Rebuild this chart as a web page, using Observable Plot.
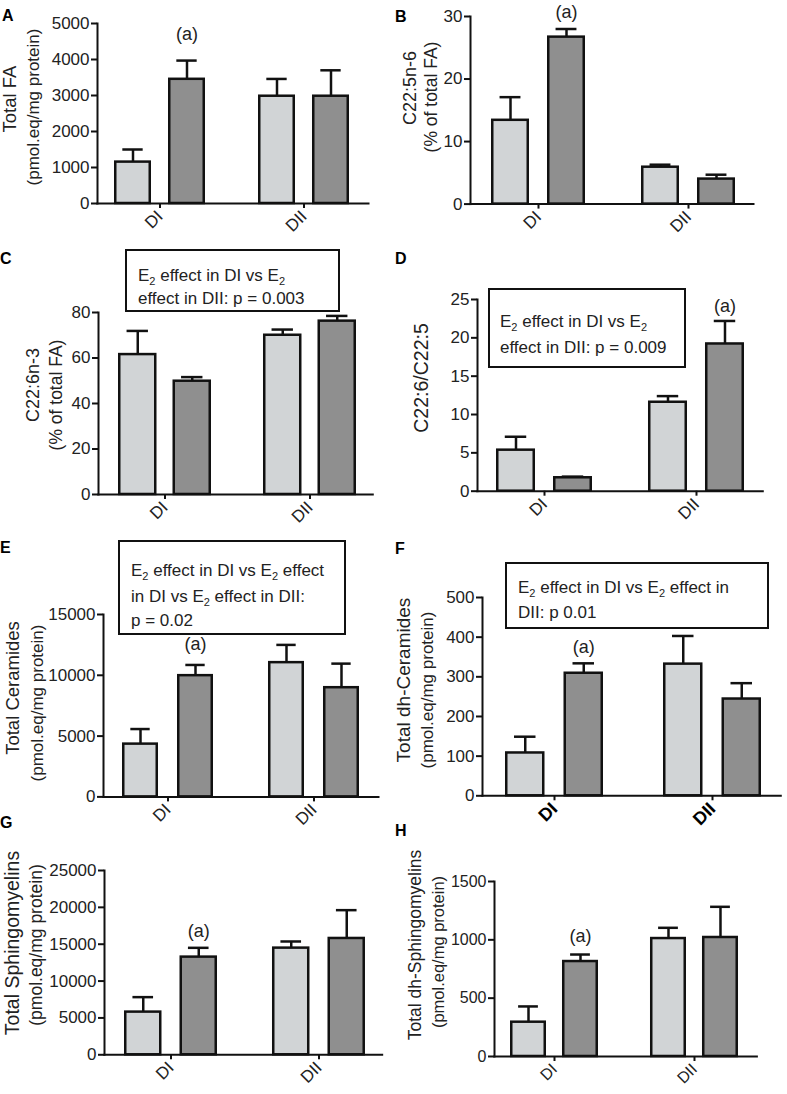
<!DOCTYPE html>
<html>
<head>
<meta charset="utf-8">
<script src="https://cdn.jsdelivr.net/npm/d3@7"></script>
<script src="https://cdn.jsdelivr.net/npm/@observablehq/plot@0.6"></script>
<style>
  html, body { margin: 0; padding: 0; background: #fff; }
  #fig { position: relative; width: 787px; height: 1094px; overflow: hidden; background: #fff;
         font-family: "Liberation Sans", Arial, sans-serif; color: #222; }
  .letter { position: absolute; font-weight: bold; font-size: 16px; line-height: 1; color: #000; }
  .ytitle { position: absolute; white-space: nowrap; transform: translate(-50%, -50%) rotate(-90deg);
            line-height: 1; color: #222; }
  .box { position: absolute; border: 2px solid #111; background: #fff; box-sizing: border-box; }
  .boxline { position: absolute; white-space: nowrap; font-size: 17px; line-height: 1; color: #222; transform: translateY(-50%); }
  .boxline sub { font-size: 11px; vertical-align: -4px; line-height: 0; }
</style>
</head>
<body>
<div id="fig"></div>
<script>
// ---------------- data ----------------
const groups = ["DI", "DII"];
const treatments = ["Control", "E2"];
// order of values: DI-Control, DI-E2, DII-Control, DII-E2
const totalFA_mean = [1150, 3450, 2980, 2980];
const totalFA_sem  = [350, 520, 480, 720];
const totalFA_sig  = [false, true, false, false];

const c225n6_mean = [13.4, 26.7, 5.9, 4.0];
const c225n6_sem  = [3.7, 1.3, 0.4, 0.7];
const c225n6_sig  = [false, true, false, false];

const c226n3_mean = [61.5, 49.8, 70.0, 76.2];
const c226n3_sem  = [10.4, 1.8, 2.5, 2.3];
const c226n3_sig  = [false, false, false, false];

const ratio_mean = [5.35, 1.75, 11.6, 19.2];
const ratio_sem  = [1.75, 0.15, 0.8, 3.0];
const ratio_sig  = [false, false, false, true];

const cer_mean = [4340, 9970, 11040, 8980];
const cer_sem  = [1240, 880, 1460, 1980];
const cer_sig  = [false, true, false, false];

const dhcer_mean = [108, 309, 332, 244];
const dhcer_sem  = [41, 25, 71, 40];
const dhcer_sig  = [false, true, false, false];

const sm_mean = [5790, 13250, 14470, 15780];
const sm_sem  = [2030, 1260, 900, 3840];
const sm_sig  = [false, true, false, false];

const dhsm_mean = [294, 814, 1011, 1020];
const dhsm_sem  = [135, 60, 92, 263];
const dhsm_sig  = [false, true, false, false];

const yMax   = {A: 5000, B: 30, C: 80, D: 25, E: 15000, F: 500, G: 25000, H: 1500};
const yStep  = {A: 1000, B: 10, C: 20, D: 5, E: 5000, F: 100, G: 5000, H: 500};

const yTitles = {
  A: ["Total FA", "(pmol.eq/mg protein)"],
  B: ["C22:5n-6", "(% of total FA)"],
  C: ["C22:6n-3", "(% of total FA)"],
  D: ["C22:6/C22:5"],
  E: ["Total Ceramides", "(pmol.eq/mg protein)"],
  F: ["Total dh-Ceramides", "(pmol.eq/mg protein)"],
  G: ["Total Sphingomyelins", "(pmol.eq/mg protein)"],
  H: ["Total dh-Sphingomyelins", "(pmol.eq/mg protein)"]
};

const boxTexts = {
  C: ["E<sub>2</sub> effect in DI vs E<sub>2</sub>", "effect in DII: p = 0.003"],
  D: ["E<sub>2</sub> effect in DI vs E<sub>2</sub>", "effect in DII: p = 0.009"],
  E: ["E<sub>2</sub> effect in DI vs E<sub>2</sub> effect", "in DI vs E<sub>2</sub> effect in DII:", "p = 0.02"],
  F: ["E<sub>2</sub> effect in DI vs E<sub>2</sub> effect in", "DII: p 0.01"]
};

const series = {
  A: [totalFA_mean, totalFA_sem, totalFA_sig],
  B: [c225n6_mean, c225n6_sem, c225n6_sig],
  C: [c226n3_mean, c226n3_sem, c226n3_sig],
  D: [ratio_mean, ratio_sem, ratio_sig],
  E: [cer_mean, cer_sem, cer_sig],
  F: [dhcer_mean, dhcer_sem, dhcer_sig],
  G: [sm_mean, sm_sem, sm_sig],
  H: [dhsm_mean, dhsm_sem, dhsm_sig]
};

// ---------------- layout (pixels) ----------------
const layout = {
  A: {x0: 97,   x1: 368,   yTop: 23.3,  yBot: 203.3,  c1: 159,   c2: 303.5, w: 37,   g: 17,   aDy: 26, font: 17},
  B: {x0: 470,  x1: 753,   yTop: 15.7,  yBot: 203.3,  c1: 537.5, c2: 688,   w: 38,   g: 18,   aDy: 17, font: 17},
  C: {x0: 97.7, x1: 372,   yTop: 312.3, yBot: 494.3,  c1: 164,   c2: 309,   w: 38,   g: 16.5, aDy: 20, font: 17},
  D: {x0: 476.7,x1: 762,   yTop: 299.3, yBot: 491,    c1: 543.5, c2: 696,   w: 39,   g: 18,   aDy: 15, font: 17},
  E: {x0: 102.7,x1: 377.7, yTop: 614.3, yBot: 796.7,  c1: 166.7, c2: 313.5, w: 37,   g: 18,   aDy: 21, font: 17},
  F: {x0: 481.7,x1: 780,   yTop: 596.7, yBot: 795,    c1: 553.5, c2: 712,   w: 40,   g: 18.5, aDy: 16, font: 17, bold: true},
  G: {x0: 104.3,x1: 382,   yTop: 870,   yBot: 1054.3, c1: 170.5, c2: 318.5, w: 37.5, g: 18,   aDy: 17, font: 17},
  H: {x0: 494.3,x1: 756.7, yTop: 881,   yBot: 1056,   c1: 554.3, c2: 694.5, w: 36,   g: 16,   aDy: 18, font: 16}
};
const letterPos = {A: [2, 8], B: [395, 9], C: [0, 251], D: [395, 251], E: [0, 540], F: [395, 541], G: [0, 815], H: [395, 823]};
const titlePos = {
  A: [[10, 99, 18.5], [33, 107, 17]],
  B: [[410, 88, 18], [432, 97, 17.5]],
  C: [[33, 385, 18], [57, 395, 17.5]],
  D: [[422, 378, 19.5]],
  E: [[13, 688, 18.5], [37, 703, 17]],
  F: [[403, 680, 19], [427, 690, 17]],
  G: [[13, 943, 19.5], [37, 945, 17.5]],
  H: [[416, 945, 17.5], [438, 952, 16.5]]
};
const boxPos = {
  C: {l: 125, t: 249, r: 340, b: 312, lines: [275, 298], tx: 138},
  D: {l: 488, t: 288, r: 686, b: 368, lines: [321, 347], tx: 500},
  E: {l: 118, t: 540, r: 346, b: 635, lines: [570, 596, 620], tx: 131},
  F: {l: 505, t: 562, r: 769, b: 629, lines: [587, 612], tx: 518}
};

const LIGHT = "#d1d4d6", DARK = "#8f8f8f";
const fig = document.getElementById("fig");

function panel(key) {
  const L = layout[key];
  const [means, sems, sigs] = series[key];
  const rows = [];
  groups.forEach((g, gi) => treatments.forEach((t, ti) => {
    const i = gi * 2 + ti;
    rows.push({group: g, treatment: t, mean: means[i], sem: sems[i], sig: sigs[i]});
  }));
  const ctrl = rows.filter(d => d.treatment === "Control");
  const e2 = rows.filter(d => d.treatment === "E2");
  const sw = 2.5;
  const mL = 75, mR = 12, mT = 12, mB = 50;
  const left = L.x0 - mL, top = L.yTop - mT;
  const width = (L.x1 - L.x0) + mL + mR;
  const height = (L.yBot - L.yTop) + mT + mB;
  const s = L.c2 - L.c1;
  const bw = 2 * L.w + L.g;
  const pi = 1 - bw / s;
  const off = L.g / 2 + L.w / 2;
  const cw = L.w * 0.55;
  const capIn = L.w / 2 - cw / 2;
  const top_ = d => d.mean + d.sem;

  const plot = Plot.plot({
    width, height,
    marginLeft: mL, marginRight: mR, marginTop: mT, marginBottom: mB,
    style: {fontFamily: '"Liberation Sans", Arial, sans-serif', fontSize: L.font + "px", color: "#222", overflow: "visible", background: "transparent"},
    x: {type: "band", domain: groups, range: [L.c1 - s / 2 - left, L.c2 + s / 2 - left], paddingInner: pi, paddingOuter: pi / 2, label: null},
    y: {domain: [0, yMax[key]], label: null},
    marks: [
      Plot.barY(ctrl, {x: "group", y: "mean", fill: LIGHT, stroke: "#111", strokeWidth: sw,
        insetLeft: sw / 2, insetRight: L.w + L.g + sw / 2}),
      Plot.barY(e2, {x: "group", y: "mean", fill: DARK, stroke: "#111", strokeWidth: sw,
        insetLeft: L.w + L.g + sw / 2, insetRight: sw / 2}),
      Plot.ruleX(ctrl, {x: "group", y1: "mean", y2: top_, dx: -off, stroke: "#111", strokeWidth: sw}),
      Plot.ruleX(e2, {x: "group", y1: "mean", y2: top_, dx: off, stroke: "#111", strokeWidth: sw}),
      Plot.tickY(ctrl, {x: "group", y: top_, stroke: "#111", strokeWidth: sw,
        insetLeft: capIn, insetRight: bw - capIn - cw}),
      Plot.tickY(e2, {x: "group", y: top_, stroke: "#111", strokeWidth: sw,
        insetLeft: bw - capIn - cw, insetRight: capIn}),
      Plot.text(rows.filter(d => d.sig), {x: "group", y: top_, text: () => "(a)",
        dx: off, dy: -L.aDy, fontSize: 18, fill: "#222"}),
      Plot.axisY({ticks: d3.range(0, yMax[key] + yStep[key] / 2, yStep[key]), tickFormat: "d",
        tickSize: 6, tickPadding: 2, strokeWidth: 2, stroke: "#111", label: null, fontSize: L.font}),
      Plot.axisX({tickSize: 5, tickPadding: 5, tickRotate: -45, strokeWidth: 2, stroke: "#111", label: null,
        fontSize: L.bold ? 18 : L.font, fontWeight: L.bold ? "bold" : "normal", fill: L.bold ? "#000" : "#222"}),
      Plot.frame({anchor: "left", stroke: "#111", strokeWidth: 2}),
      Plot.frame({anchor: "bottom", stroke: "#111", strokeWidth: 2})
    ]
  });
  plot.style.position = "absolute";
  plot.style.left = left + "px";
  plot.style.top = top + "px";
  fig.appendChild(plot);

  // panel letter
  const lt = document.createElement("div");
  lt.className = "letter";
  lt.textContent = key;
  lt.style.left = letterPos[key][0] + "px";
  lt.style.top = letterPos[key][1] + "px";
  fig.appendChild(lt);

  // y title lines
  yTitles[key].forEach((line, i) => {
    const [cx, cy, fs] = titlePos[key][i];
    const el = document.createElement("div");
    el.className = "ytitle";
    el.textContent = line;
    el.style.left = cx + "px";
    el.style.top = cy + "px";
    el.style.fontSize = fs + "px";
    fig.appendChild(el);
  });

  // annotation box
  if (boxTexts[key]) {
    const B = boxPos[key];
    const box = document.createElement("div");
    box.className = "box";
    box.style.left = B.l + "px"; box.style.top = B.t + "px";
    box.style.width = (B.r - B.l) + "px"; box.style.height = (B.b - B.t) + "px";
    fig.appendChild(box);
    boxTexts[key].forEach((html, i) => {
      const el = document.createElement("div");
      el.className = "boxline";
      el.innerHTML = html;
      el.style.left = B.tx + "px";
      el.style.top = B.lines[i] + "px";
      fig.appendChild(el);
    });
  }
}

["A", "B", "C", "D", "E", "F", "G", "H"].forEach(panel);
</script>
</body>
</html>
